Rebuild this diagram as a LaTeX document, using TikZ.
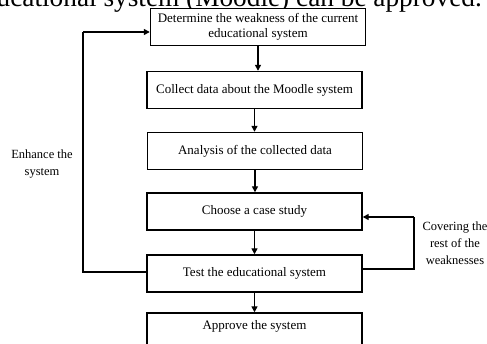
\documentclass[tikz,border=0pt]{standalone}
\usepackage{fontspec}
\setmainfont{Liberation Serif}
\usetikzlibrary{arrows.meta}
\tikzset{
    stage/.style={draw, fill=white, line width=1.4pt, minimum width=215pt, minimum height=37pt, align=center, inner sep=2pt, font=\fontsize{13}{15}\selectfont},
    side/.style={align=center, font=\fontsize{12.5}{17}\selectfont},
    flow/.style={line width=1.4pt, -{Triangle[length=6pt,width=6pt]}},
    loop/.style={line width=1.4pt}
}
\begin{document}
\begin{tikzpicture}[x=1pt, y=-1pt]
            \useasboundingbox (0, 0) rectangle (487, 344);
            \clip (0, 0) rectangle (487, 344);

            \node (head) at (482, 6.5) [anchor=base east, inner sep=0pt, font=\fontsize{27.3}{30}\selectfont] {educational system (Moodle) can be approved.};

            \node (s1) at (258, 27) [stage] {Determine the weakness of the current\\educational system};
            \node (s2) at (254.5, 90) [stage] {Collect data about the Moodle system};
            \node (s3) at (255, 151) [stage] {Analysis of the collected data};
            \node (s4) at (254.5, 211.5) [stage] {Choose a case study};
            \node (s5) at (254.5, 273.5) [stage] {Test the educational system};
            \node (s6) at (254.5, 331.5) [stage, text depth=14pt] {Approve the system};

            \draw[flow] (s1.south) to (s1.south |- s2.north);
            \draw[flow] (s2.south) to (s2.south |- s3.north);
            \draw[flow] (s3.south) to (s3.south |- s4.north);
            \draw[flow] (s4.south) to (s4.south |- s5.north);
            \draw[flow] (s5.south) to (s5.south |- s6.north);

            \coordinate (lb) at (83, 272);
            \coordinate (lt) at (83, 32);
            \draw[loop] (s5.west |- lb) -- (lb) -- (lt);
            \draw[flow] (lt) to (s1.west |- lt);
            \node (enh) at (42, 164) [side] {Enhance the\\system};

            \coordinate (rb) at (414, 269);
            \coordinate (rt) at (414, 217);
            \draw[loop] (s5.east |- rb) -- (rb) -- (rt);
            \draw[flow] (rt) to (s4.east |- rt);
            \node (cov) at (455, 243) [side] {Covering the\\rest of the\\weaknesses};
        \end{tikzpicture}
\end{document}
